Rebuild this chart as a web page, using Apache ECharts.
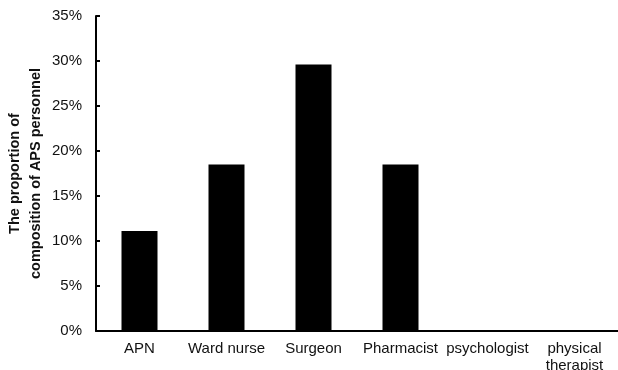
<!DOCTYPE html>
<html>
<head>
<meta charset="utf-8">
<script src="https://cdn.jsdelivr.net/npm/echarts@6/dist/echarts.min.js"></script>
<style>
html,body{margin:0;padding:0;background:#fff}
#chart{width:618px;height:370px}
</style>
</head>
<body>
<div id="chart"></div>
<script>
// APS personnel composition
var categories = ['APN', 'Ward nurse', 'Surgeon', 'Pharmacist', 'psychologist', 'physical\ntherapist']
var proportions = [11.1, 18.5, 29.6, 18.5, 0, 0]
var yTicks = [0, 5, 10, 15, 20, 25, 30, 35]

var chart = echarts.init(document.querySelector('#chart'))
var option = {
    animation: false,
    grid: {
        left: 96,
        right: 0,
        top: 16,
        bottom: 39,
        outerBoundsMode: 'none',
        containLabel: false
    },
    xAxis: {
        type: 'category',
        data: categories,
        axisLine: {lineStyle: {color: '#000', width: 2}},
        axisTick: {inside: true, length: 4, lineStyle: {color: '#000', width: 2}},
        axisLabel: {
            color: '#111',
            fontSize: 15,
            fontFamily: 'Liberation Sans',
            margin: 9,
            interval: 0,
            lineHeight: 17,
            verticalAlign: 'top'
        }
    },
    yAxis: {
        type: 'value',
        min: yTicks[0],
        max: yTicks[yTicks.length - 1],
        interval: 5,
        name: 'The proportion of\ncomposition of APS personnel',
        nameLocation: 'middle',
        nameMoveOverlap: false,
        nameGap: 50,
        nameTextStyle: {
            color: '#111',
            fontSize: 14.5,
            fontWeight: 'bold',
            fontFamily: 'Liberation Sans',
            lineHeight: 21
        },
        splitLine: {show: false},
        axisLine: {show: true, lineStyle: {color: '#000', width: 2}},
        axisTick: {show: true, inside: true, length: 4, lineStyle: {color: '#000', width: 2}},
        axisLabel: {
            color: '#111',
            fontSize: 15,
            fontFamily: 'Liberation Sans',
            margin: 14,
            formatter: '{value}%'
        }
    },
    series: [
        {
            type: 'bar',
            data: proportions,
            barWidth: 36,
            itemStyle: {color: '#000'}
        }
    ]
}
chart.setOption(option)
</script>
</body>
</html>
